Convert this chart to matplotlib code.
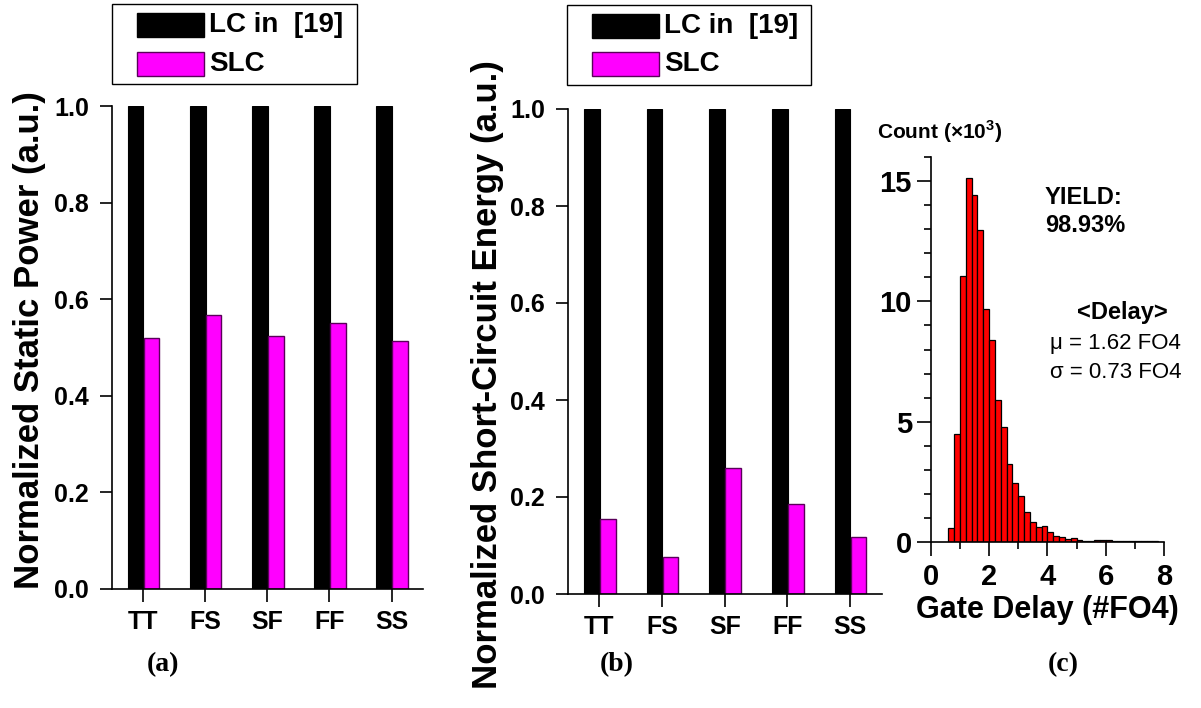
import matplotlib
matplotlib.use("Agg")
import matplotlib.pyplot as plt
from matplotlib.patches import Rectangle
import numpy as np

plt.rcParams['font.family'] = ['Liberation Sans', 'DejaVu Sans']
plt.rcParams['mathtext.fontset'] = 'custom'
plt.rcParams['mathtext.rm'] = 'Liberation Sans'
plt.rcParams['mathtext.bf'] = 'Liberation Sans:bold'

# ---------------- data ----------------
corners = ["TT", "FS", "SF", "FF", "SS"]
series_names = ["LC in  [19]", "SLC"]
lc_static = [1.0, 1.0, 1.0, 1.0, 1.0]
slc_static = [0.520, 0.567, 0.523, 0.550, 0.513]
lc_short = [1.0, 1.0, 1.0, 1.0, 1.0]
slc_short = [0.155, 0.076, 0.260, 0.185, 0.118]

bin_left = [0.6, 0.8, 1.0, 1.2, 1.4, 1.6, 1.8, 2.0, 2.2, 2.4, 2.6, 2.8, 3.0,
            3.2, 3.4, 3.6, 3.8, 4.0, 4.2, 4.4, 4.6, 4.8, 5.0, 5.2, 5.4, 5.6,
            5.8, 6.0, 6.2, 6.4, 6.6, 6.8, 7.0, 7.2, 7.4, 7.6, 7.8]
counts_k = [0.56, 4.47, 11.07, 15.12, 14.44, 12.99, 9.68, 8.39, 5.89, 4.78,
            3.25, 2.43, 1.92, 1.22, 0.81, 0.63, 0.65, 0.39, 0.25, 0.18, 0.11,
            0.15, 0.08, 0.04, 0.04, 0.05, 0.07, 0.05, 0.04, 0.02, 0.02, 0.01,
            0.02, 0.01, 0.01, 0.01, 0.005]
bin_width = 0.2

W, H = 1201, 708
fig = plt.figure(figsize=(W / 100, H / 100), dpi=100)


def rect(l, r, b, t):
    return [l / W, 1 - b / H, (r - l) / W, (b - t) / H]


def style_bar_axes(ax):
    ax.spines['top'].set_visible(False)
    ax.spines['right'].set_visible(False)
    for s in ('left', 'bottom'):
        ax.spines[s].set_linewidth(1.2)
    ax.set_xlim(-0.5, 4.5)
    ax.set_ylim(0, 1.0)
    ax.set_yticks([0.0, 0.2, 0.4, 0.6, 0.8, 1.0])
    ax.set_yticklabels(["0.0", "0.2", "0.4", "0.6", "0.8", "1.0"])
    ax.set_xticks(range(len(corners)))
    ax.set_xticklabels(corners)
    ax.tick_params(axis='y', direction='out', length=8.5, width=1.2,
                   labelsize=18, pad=8)
    ax.tick_params(axis='x', direction='out', length=9, width=1.2,
                   labelsize=18, pad=6)
    for lab in ax.get_xticklabels() + ax.get_yticklabels():
        lab.set_fontweight('bold')


def draw_bars(ax, lc, slc):
    x = np.arange(len(corners))
    b1 = ax.bar(x - 0.12, lc, width=0.25, color='black', edgecolor='black',
                linewidth=0.8)
    b2 = ax.bar(x + 0.135, slc, width=0.25, color='#FF00FF',
                edgecolor='#5a005a', linewidth=1.0)
    return b1, b2


def draw_legend(bars, frame, patch_x, rows_y, text_x):
    # frame: (l, r, t, b) in pixels; rows_y: list of (top, bottom)
    l, r, t, b = frame
    fig.patches.append(Rectangle((l / W, 1 - b / H), (r - l) / W, (b - t) / H,
                                 transform=fig.transFigure, facecolor='white',
                                 edgecolor='black', linewidth=1.0))
    for bar, name, (yt, yb) in zip(bars, series_names, rows_y):
        p = bar.patches[0]
        fig.patches.append(Rectangle((patch_x[0] / W, 1 - yb / H),
                                     (patch_x[1] - patch_x[0]) / W,
                                     (yb - yt) / H, transform=fig.transFigure,
                                     facecolor=p.get_facecolor(),
                                     edgecolor=p.get_edgecolor(),
                                     linewidth=1.0))
        fig.text(text_x / W, 1 - (yt + yb) / 2 / H, name, ha='left',
                 va='center', fontsize=20, fontweight='bold')


# ---------- panel (a) ----------
axa = fig.add_axes(rect(112, 422.7, 589, 106))
bars_a = draw_bars(axa, lc_static, slc_static)
style_bar_axes(axa)
fig.text(30 / W, 1 - 340 / H, "Normalized Static Power (a.u.)", rotation=90,
         ha='center', va='center', fontsize=25, fontweight='bold')
draw_legend(bars_a, (112, 357, 4, 84), (137, 204), [(13, 37), (52, 76)], 209)

# ---------- panel (b) ----------
axb = fig.add_axes(rect(568, 881.5, 594, 109))
bars_b = draw_bars(axb, lc_short, slc_short)
style_bar_axes(axb)
fig.text(487 / W, 1 - 375 / H, "Normalized Short-Circuit Energy (a.u.)",
         rotation=90, ha='center', va='center', fontsize=25,
         fontweight='bold')
draw_legend(bars_b, (566.7, 811, 4.7, 85), (592, 658.7), [(14, 38), (52, 76)],
            664)

# ---------- panel (c) ----------
axc = fig.add_axes(rect(930.7, 1164, 541.7, 157.3))
axc.bar(bin_left, counts_k, width=bin_width, align='edge', color='#FF0000',
        edgecolor='black', linewidth=0.9)
axc.set_xlim(0, 8)
axc.set_ylim(0, 16)
axc.spines['top'].set_visible(False)
axc.spines['right'].set_visible(False)
for s in ('left', 'bottom'):
    axc.spines[s].set_linewidth(1.2)
axc.set_xticks([0, 2, 4, 6, 8])
axc.set_xticks([1, 3, 5, 7], minor=True)
axc.set_yticks([0, 5, 10, 15])
axc.set_yticks([1, 2, 3, 4, 6, 7, 8, 9, 11, 12, 13, 14, 16], minor=True)
axc.tick_params(which='major', direction='out', length=10, width=1.2,
                labelsize=21)
axc.tick_params(which='minor', direction='out', length=5, width=1.2)
axc.tick_params(axis='x', which='major', pad=5)
for lab in axc.get_xticklabels() + axc.get_yticklabels():
    lab.set_fontweight('bold')
fig.text(1047 / W, 1 - 610 / H, "Gate Delay (#FO4)", ha='center',
         va='center', fontsize=22, fontweight='bold')
fig.text(877 / W, 1 - 132 / H, r"Count (×10$^{\mathbf{3}}$)", ha='left',
         va='center', fontsize=15, fontweight='bold')
fig.text(1045 / W, 1 - 197 / H, "YIELD:", ha='left', va='center',
         fontsize=17, fontweight='bold')
fig.text(1045 / W, 1 - 226 / H, "98.93%", ha='left', va='center',
         fontsize=17, fontweight='bold')
fig.text(1122 / W, 1 - 313 / H, "<Delay>", ha='center', va='center',
         fontsize=17, fontweight='bold')
fig.text(1181 / W, 1 - 343 / H, "μ = 1.62 FO4", ha='right', va='center',
         fontsize=16)
fig.text(1181 / W, 1 - 373 / H, "σ = 0.73 FO4", ha='right', va='center',
         fontsize=16)

# ---------- panel captions ----------
for xc, txt in [(163, "(a)"), (617, "(b)"), (1063, "(c)")]:
    fig.text(xc / W, 1 - 665 / H, txt, ha='center', va='center', fontsize=20,
             fontweight='bold', family=['Liberation Serif', 'DejaVu Serif'])

fig.savefig("out.png", dpi=100)
